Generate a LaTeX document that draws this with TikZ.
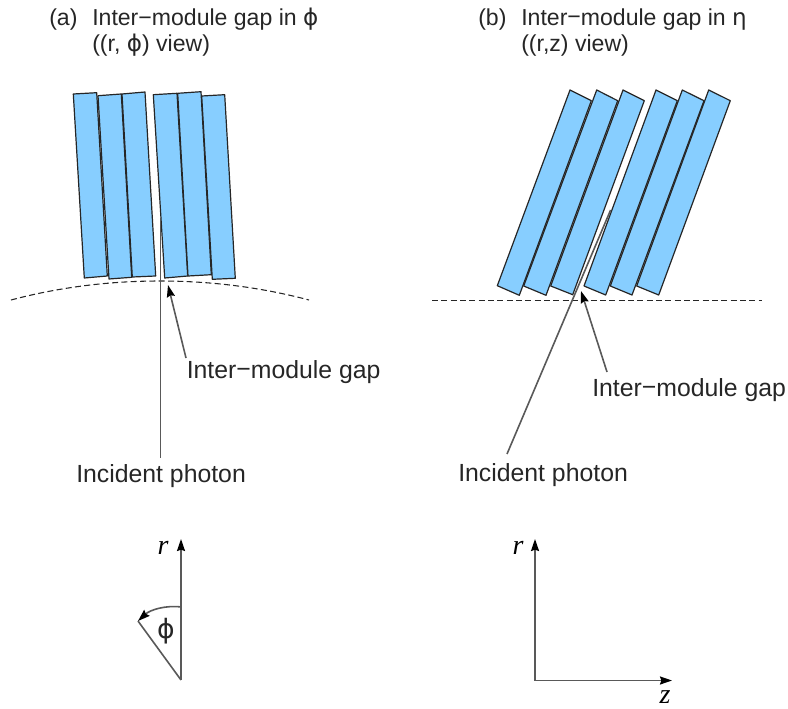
\documentclass[tikz,border=0pt]{standalone}
\usepackage{fontspec}
\setmainfont{Liberation Sans}
\newfontfamily\serifit{Liberation Serif}
\newfontfamily\grk{DejaVu Sans}
\usetikzlibrary{arrows.meta}
\definecolor{modblue}{RGB}{135,206,255}
\newcommand{\gapdash}{\raisebox{0.02em}{\char"2212}}
\tikzset{
 module/.style={draw=black!85,line width=0.9pt,fill=modblue,line join=round},
 conn/.style={draw=black!65,line width=1.2pt},
 tip/.style={-{Stealth[length=9pt,width=6pt,inset=1pt,color=black]}},
 refline/.style={black!85,line width=0.8pt,dash pattern=on 4.5pt off 2.5pt},
 lab/.style={font=\fontsize{18.6pt}{22pt}\selectfont,text=black!85,inner sep=0,anchor=west},
 ttl/.style={font=\fontsize{17.3pt}{20pt}\selectfont,text=black!85,inner sep=0,anchor=west},
 axl/.style={font=\fontsize{21pt}{22pt}\selectfont\serifit\itshape,text=black,inner sep=0}
}
\begin{document}
\begin{tikzpicture}[x=0.75pt,y=-0.75pt]
\useasboundingbox (0,0) rectangle (788,709);
% left modules
\draw[module] (73.3,94) -- (96.7,92.7) -- (107.3,276) -- (84.3,278) -- cycle;
\draw[module] (98,95.7) -- (121.3,94) -- (131.7,277.3) -- (109,279) -- cycle;
\draw[module] (122,94) -- (145,92) -- (155.7,276) -- (132.3,277) -- cycle;
\draw[module] (153.3,94.7) -- (177,93.3) -- (187.7,276) -- (164.7,278) -- cycle;
\draw[module] (177.7,93.3) -- (201,91.7) -- (211.3,274.7) -- (188,276) -- cycle;
\draw[module] (201.7,96) -- (224.7,94.7) -- (235.3,278.3) -- (212.3,279.3) -- cycle;
% right modules
\draw[module] (570,90) -- (591.3,100.7) -- (519.3,295.3) -- (497.3,285.7) -- cycle;
\draw[module] (596.7,90) -- (617.7,100.7) -- (546,295.3) -- (523.7,286) -- cycle;
\draw[module] (623,90) -- (644.3,100.7) -- (572.7,294.7) -- (550.7,286) -- cycle;
\draw[module] (656,90) -- (677.3,100.7) -- (605.7,295) -- (584,286) -- cycle;
\draw[module] (682.3,90) -- (704,100.7) -- (632,295) -- (610.3,286) -- cycle;
\draw[module] (708.7,90) -- (730.3,100.7) -- (658.7,295) -- (636.7,286) -- cycle;
% reference circles / lines
\draw[refline] (11,300) .. controls (60,287) and (110,281) .. (160,281) .. controls (210,281) and (260,287) .. (309,300);
\draw[refline] (432,300.5) -- (762,300.5);
% labels
\node[ttl] (ta) at (49,19.5) {(a)};
\node[ttl] (tb) at (92,19.5) {Inter\gapdash module gap in {\grk ϕ}};
\node[ttl] (tc) at (92,45.5) {((r, {\grk ϕ}) view)};
\node[ttl] (td) at (478,19.5) {(b)};
\node[ttl] (te) at (521,19.5) {Inter\gapdash module gap in {\grk η}};
\node[ttl] (tf) at (521,45.5) {((r,z) view)};
\node[lab] (g1) at (186.5,372) {Inter\gapdash module gap};
\node[lab] (g2) at (592,390) {Inter\gapdash module gap};
\node[lab] (p1) at (76,476) {Incident photon};
\node[lab] (p2) at (458,475) {Incident photon};
% photons
\coordinate (a1) at (160.5,218);
\coordinate (a1e) at (160.5,458);
\coordinate (a2) at (610.6,210);
\coordinate (a2e) at (507,454);
\draw[conn] (a1) -- (a1e);
\draw[conn] (a2) -- (a2e);
\coordinate (h1) at (168,285);
\coordinate (h1s) at (186,358);
\coordinate (h2) at (581,291);
\coordinate (h2s) at (607,372);
\draw[conn,tip] (h1s) -- (h1);
\draw[conn,tip] (h2s) -- (h2);
% axes
\coordinate (o1) at (181,680);
\coordinate (r1) at (181,539);
\coordinate (s1) at (138,621);
\coordinate (q1) at (181.5,607);
\coordinate (o2) at (535,680.5);
\coordinate (r2) at (535,539);
\coordinate (z2) at (672,680.5);
\draw[conn,tip] (o1) -- (r1);
\draw[conn] (o1) -- (s1);
\draw[conn,tip] (q1) .. controls (165,605) and (150,610) .. (s1);
\draw[conn,tip] (o2) -- (r2);
\draw[conn,tip] (o2) -- (z2);
\node[axl] (lr1) at (163,548) {r};
\node[axl] (lr2) at (518,548) {r};
\node[axl] (lz) at (665,697) {z};
\node[inner sep=0,font=\fontsize{20pt}{22pt}\selectfont\grk,text=black!85] (lphi) at (166,631) {ϕ};
\end{tikzpicture}
\end{document}
